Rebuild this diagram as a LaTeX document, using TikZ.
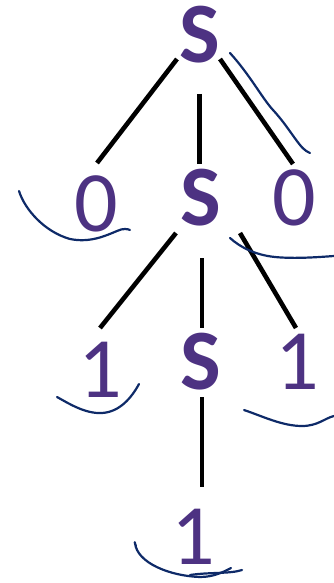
\documentclass[tikz,border=0pt]{standalone}
\usepackage{fontspec}
\setmainfont{Carlito}
\definecolor{sym}{HTML}{4D3282}
\definecolor{ink}{HTML}{0E2A68}
\begin{document}
\begin{tikzpicture}[x=1pt,y=-1pt,
  lbl/.style={inner sep=0pt,text=sym,font=\fontsize{86}{86}\selectfont},
  nt/.style={lbl,font=\fontsize{86}{86}\selectfont\bfseries},
  edge/.style={line width=4.6pt,black},
  pen/.style={line width=2.2pt,ink,line cap=round,line join=round}]
\useasboundingbox (0,0) rectangle (334,583);
% nodes
\node[nt]  (s1) at (200,35) {S};
\node[lbl] (z1) at (96,204) {0};
\node[nt]  (s2) at (201,198) {S};
\node[lbl] (z2) at (294,198) {0};
\node[lbl] (o1) at (100,370) {1};
\node[nt]  (s3) at (201,362) {S};
\node[lbl] (o2) at (297,362) {1};
\node[lbl] (o3) at (193,537) {1};
% edge end points
\coordinate (a1) at (177,59);  \coordinate (a2) at (97,163);
\coordinate (b1) at (199.5,94); \coordinate (b2) at (199.5,164);
\coordinate (c1) at (220,59);  \coordinate (c2) at (293,164);
\coordinate (d1) at (176,233); \coordinate (d2) at (100,328);
\coordinate (e1) at (202,258); \coordinate (e2) at (202,328);
\coordinate (f1) at (240,233); \coordinate (f2) at (296,328);
\coordinate (g1) at (202,397); \coordinate (g2) at (202,487);
\draw[edge] (a1) -- (a2);
\draw[edge] (b1) -- (b2);
\draw[edge] (c1) -- (c2);
\draw[edge] (d1) -- (d2);
\draw[edge] (e1) -- (e2);
\draw[edge] (f1) -- (f2);
\draw[edge] (g1) -- (g2);
% hand-drawn marks
\draw[pen] (230,53) .. controls (250,75) and (262,98) .. (273,110)
  .. controls (285,123) and (292,135) .. (300,145) .. controls (305,151) and (308,152) .. (310,153);
\draw[pen] (19,191) .. controls (25,210) and (45,232) .. (70,239)
  .. controls (90,243) and (105,236) .. (117,231) .. controls (123,228) and (128,229) .. (130,230);
\draw[pen] (230,238) .. controls (240,247) and (255,255) .. (275,257)
  .. controls (295,259) and (320,257) .. (334,256);
\draw[pen] (57,397) .. controls (68,403) and (85,414) .. (102,413)
  .. controls (120,412) and (132,397) .. (139,384);
\draw[pen] (244,410) .. controls (262,416) and (282,426) .. (302,426)
  .. controls (318,426) and (325,418) .. (334,416);
\draw[pen] (136,546) .. controls (134,542) and (135,541) .. (135,543)
  .. controls (137,563) and (170,576) .. (200,577)
  .. controls (215,577) and (225,571) .. (231,568);
\draw[pen] (190,575) .. controls (210,572) and (230,574) .. (242,570);
\end{tikzpicture}
\end{document}
